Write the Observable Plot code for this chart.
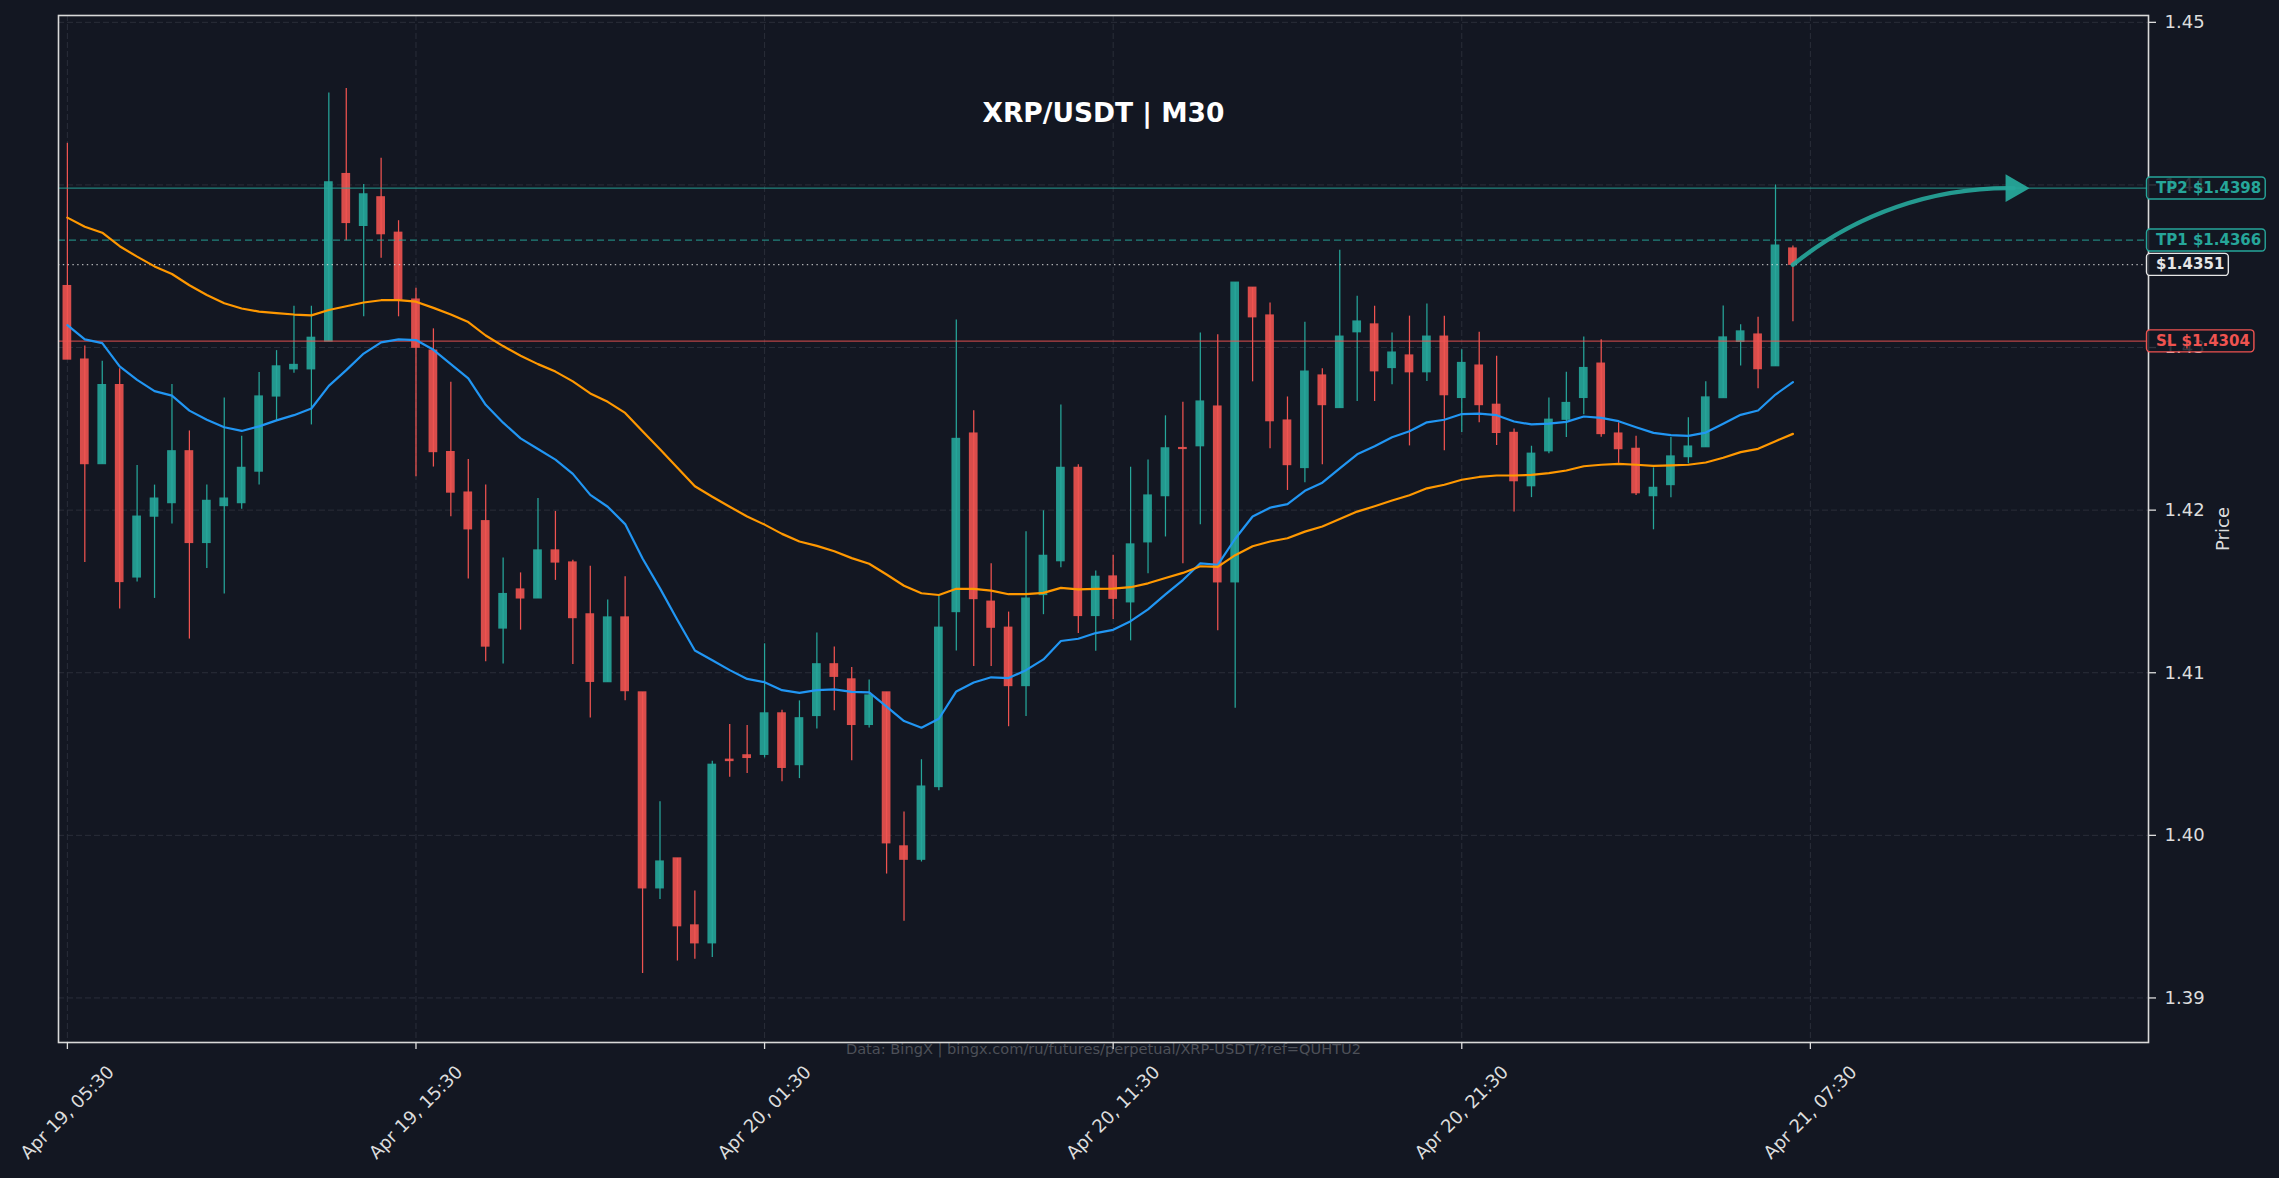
<!DOCTYPE html>
<html><head><meta charset="utf-8">
<script src="https://cdn.jsdelivr.net/npm/d3@7"></script>
<script src="https://cdn.jsdelivr.net/npm/@observablehq/plot@0.6"></script>
<style>
html,body{margin:0;padding:0;background:#131722;overflow:hidden}
</style></head><body><div id="chart"></div>
<script>
// ---------- data ----------
const opens = [1.43378,1.42926,1.42283,1.42769,1.41586,1.41960,1.42043,1.42362,1.41798,1.42025,
1.42043,1.42237,1.42699,1.42866,1.42866,1.43037,1.44067,1.43748,1.43924,1.43706,
1.43295,1.42981,1.42357,1.42108,1.41932,1.41272,1.41512,1.41457,1.41752,1.41678,
1.41359,1.40942,1.41340,1.40879,1.39674,1.39858,1.39446,1.39336,1.40465,1.40492,
1.40495,1.40750,1.40432,1.40734,1.41052,1.40959,1.40679,1.40879,1.39932,1.39850,
1.40297,1.41373,1.42471,1.41437,1.41277,1.40918,1.41478,1.41686,1.42260,1.41349,
1.41592,1.41433,1.41802,1.42086,1.42382,1.42393,1.42637,1.41556,1.43368,1.43197,
1.42551,1.42259,1.42828,1.42628,1.43094,1.43142,1.42874,1.42951,1.42848,1.43067,
1.42690,1.42889,1.42648,1.42475,1.42147,1.42362,1.42556,1.42690,1.42901,1.42471,
1.42377,1.42086,1.42154,1.42326,1.42387,1.42689,1.43035,1.43080,1.42885,1.43609];
const highs = [1.44256,1.43009,1.42916,1.42870,1.42274,1.42154,1.42773,1.42487,1.42154,1.42690,
1.42454,1.42847,1.42981,1.43254,1.43254,1.44566,1.44593,1.44002,1.44164,1.43780,
1.43365,1.43115,1.42787,1.42311,1.42154,1.41706,1.41614,1.42071,1.41992,1.41692,
1.41655,1.41447,1.41590,1.40879,1.40207,1.39858,1.39658,1.40456,1.40682,1.40676,
1.41178,1.40769,1.40827,1.41244,1.41159,1.41033,1.40956,1.40879,1.40144,1.40465,
1.41469,1.43169,1.42611,1.41670,1.41373,1.41867,1.41996,1.42647,1.42279,1.41626,
1.41723,1.42264,1.42308,1.42580,1.42663,1.43089,1.43078,1.43399,1.43368,1.43274,
1.42696,1.43155,1.42870,1.43599,1.43316,1.43254,1.43089,1.43193,1.43267,1.43193,
1.42986,1.43094,1.42947,1.42499,1.42393,1.42690,1.42848,1.43065,1.43048,1.42537,
1.42455,1.42260,1.42447,1.42568,1.42789,1.43256,1.43140,1.43187,1.44000,1.43625];
const lows = [1.42926,1.41678,1.42283,1.41392,1.41558,1.41457,1.41914,1.41207,1.41641,1.41484,
1.42006,1.42154,1.42547,1.42842,1.42524,1.43037,1.43656,1.43189,1.43549,1.43189,
1.42205,1.42265,1.41960,1.41577,1.41068,1.41054,1.41262,1.41457,1.41568,1.41050,
1.40722,1.40942,1.40827,1.39150,1.39606,1.39227,1.39238,1.39249,1.40358,1.40380,
1.40476,1.40330,1.40349,1.40654,1.40767,1.40459,1.40660,1.39762,1.39471,1.39836,
1.40275,1.41134,1.41038,1.41038,1.40668,1.40731,1.41357,1.41645,1.41242,1.41132,
1.41328,1.41196,1.41609,1.41835,1.41671,1.41910,1.41258,1.40781,1.42789,1.42378,
1.42121,1.42169,1.42279,1.42628,1.42668,1.42668,1.42771,1.42395,1.42791,1.42365,
1.42477,1.42538,1.42398,1.41989,1.42077,1.42347,1.42446,1.42586,1.42448,1.42289,
1.42090,1.41879,1.42076,1.42285,1.42387,1.42689,1.42887,1.42746,1.42885,1.43158];
const closes = [1.42926,1.42283,1.42769,1.41558,1.41960,1.42071,1.42362,1.41798,1.42057,1.42071,
1.42260,1.42699,1.42884,1.42893,1.43060,1.44016,1.43766,1.43942,1.43697,1.43295,
1.42999,1.42357,1.42108,1.41882,1.41161,1.41484,1.41457,1.41752,1.41678,1.41336,
1.40944,1.41340,1.40887,1.39674,1.39839,1.39441,1.39336,1.40434,1.40457,1.40476,
1.40750,1.40415,1.40720,1.41052,1.40975,1.40679,1.40860,1.39951,1.39850,1.40300,
1.41277,1.42438,1.41453,1.41277,1.40918,1.41456,1.41719,1.42260,1.41349,1.41590,
1.41455,1.41789,1.42090,1.42380,1.42376,1.42668,1.41556,1.43399,1.43186,1.42547,
1.42277,1.42852,1.42646,1.43067,1.43160,1.42854,1.42969,1.42848,1.43067,1.42707,
1.42905,1.42646,1.42475,1.42178,1.42347,1.42556,1.42659,1.42874,1.42468,1.42375,
1.42104,1.42137,1.42330,1.42391,1.42693,1.43062,1.43099,1.42867,1.43627,1.43509];
const maFast = [1.43138,1.43050,1.43027,1.42884,1.42801,1.42732,1.42704,1.42612,1.42556,1.42510,
1.42487,1.42515,1.42552,1.42584,1.42625,1.42764,1.42861,1.42963,1.43032,1.43050,
1.43046,1.42986,1.42898,1.42810,1.42648,1.42538,1.42441,1.42376,1.42311,1.42223,
1.42094,1.42021,1.41914,1.41703,1.41519,1.41324,1.41137,1.41077,1.41016,1.40962,
1.40942,1.40893,1.40876,1.40893,1.40898,1.40882,1.40879,1.40791,1.40703,1.40662,
1.40717,1.40885,1.40940,1.40972,1.40967,1.41016,1.41082,1.41195,1.41209,1.41244,
1.41264,1.41317,1.41390,1.41482,1.41570,1.41673,1.41664,1.41824,1.41961,1.42015,
1.42037,1.42119,1.42169,1.42257,1.42343,1.42393,1.42448,1.42485,1.42540,1.42556,
1.42591,1.42593,1.42584,1.42545,1.42527,1.42532,1.42543,1.42576,1.42567,1.42547,
1.42510,1.42475,1.42461,1.42457,1.42477,1.42531,1.42586,1.42613,1.42711,1.42787];
const maSlow = [1.43799,1.43743,1.43706,1.43623,1.43559,1.43499,1.43452,1.43383,1.43323,1.43272,
1.43240,1.43221,1.43212,1.43203,1.43198,1.43231,1.43254,1.43277,1.43291,1.43291,
1.43282,1.43244,1.43203,1.43157,1.43074,1.43009,1.42949,1.42898,1.42852,1.42792,
1.42718,1.42666,1.42598,1.42485,1.42375,1.42260,1.42147,1.42082,1.42021,1.41961,
1.41911,1.41854,1.41807,1.41780,1.41747,1.41705,1.41670,1.41604,1.41535,1.41489,
1.41478,1.41516,1.41516,1.41505,1.41483,1.41483,1.41491,1.41522,1.41513,1.41516,
1.41517,1.41526,1.41550,1.41583,1.41614,1.41655,1.41651,1.41723,1.41778,1.41807,
1.41827,1.41868,1.41899,1.41945,1.41991,1.42024,1.42059,1.42092,1.42134,1.42156,
1.42187,1.42204,1.42213,1.42213,1.42217,1.42228,1.42244,1.42270,1.42279,1.42285,
1.42279,1.42272,1.42275,1.42279,1.42293,1.42322,1.42357,1.42377,1.42424,1.42469];
const xTickIndex = [0, 20, 40, 60, 80, 100];
const xTickLabels = ["Apr 19, 05:30","Apr 19, 15:30","Apr 20, 01:30","Apr 20, 11:30","Apr 20, 21:30","Apr 21, 07:30"];
const yTicks = [1.39, 1.40, 1.41, 1.42, 1.43, 1.44, 1.45];
const levelNames = ["TP2", "TP1", "", "SL"];
const levelPrices = [1.4398, 1.4366, 1.4351, 1.4304];
const projectionEnd = [111.66];
const titleText = "XRP/USDT | M30";
const footerText = "Data: BingX | bingx.com/ru/futures/perpetual/XRP-USDT/?ref=QUHTU2";
const yAxisLabel = "Price";

// ---------- styles ----------
const BG = "#131722", GREEN = "#26a69a", RED = "#ef5350", BLUE = "#2196f3", ORANGE = "#ff9800";
const GRID = "#2a2e39", FG = "#dddddd", FONT = "'DejaVu Sans', sans-serif";
const levelColors = [GREEN, GREEN, "#e6e6e6", RED];
const levelDash = [null, "7,4", "1.4,3.4", null];

const candles = opens.map((o, i) => ({i, open: o, high: highs[i], low: lows[i], close: closes[i], up: closes[i] >= o}));
const fastLine = maFast.map((v, i) => ({i, v}));
const slowLine = maSlow.map((v, i) => ({i, v}));
const levels = levelPrices.map((p, k) => ({
  price: p,
  label: (levelNames[k] ? levelNames[k] + " " : "") + "$" + p.toFixed(4),
  color: levelColors[k]
}));
const last = candles.length - 1;
const projection = [{x1: last, y1: closes[last], x2: projectionEnd[0], y2: levelPrices[0]}];

const levelRules = levels.map((d, k) => Plot.ruleY([d], {
  y: "price", stroke: levelColors[k], strokeWidth: 1.3, strokeOpacity: 0.75,
  strokeDasharray: levelDash[k] || undefined
}));

const chart = Plot.plot({
  width: 2279, height: 1178,
  marginTop: 15, marginRight: 131, marginBottom: 136, marginLeft: 58,
  style: {background: BG, color: FG, fontFamily: FONT, fontSize: "18px", overflow: "visible"},
  x: {type: "linear", domain: [-0.51, 119.4], axis: null},
  y: {type: "linear", domain: [1.38726, 1.45042], axis: null},
  color: {type: "identity"},
  marks: [
    Plot.ruleY(yTicks, {stroke: GRID, strokeWidth: 1, strokeDasharray: "6,3"}),
    Plot.ruleX(xTickIndex, {stroke: GRID, strokeWidth: 1, strokeDasharray: "6,3"}),
    Plot.text([titleText], {frameAnchor: "top", dy: 106.7, lineAnchor: "bottom", fontSize: 26.5, fontWeight: "bold", fill: "#ffffff"}),
    Plot.text([footerText], {frameAnchor: "bottom", dx: 0, dy: 7, lineAnchor: "middle", fontSize: 14.6, fill: "#4d5058"}),
    Plot.ruleX(candles, {x: "i", y1: "low", y2: "high", stroke: d => d.up ? GREEN : RED, strokeWidth: 1.25}),
    Plot.rect(candles, {
      x1: d => d.i - 0.25, x2: d => d.i + 0.25,
      y1: d => Math.min(d.open, d.close), y2: d => Math.max(d.open, d.close),
      fill: d => d.up ? GREEN : RED, fillOpacity: 0.9, insetTop: -0.6, insetBottom: -0.6
    }),
    ...levelRules,
    Plot.line(fastLine, {x: "i", y: "v", stroke: BLUE, strokeWidth: 2.2}),
    Plot.line(slowLine, {x: "i", y: "v", stroke: ORANGE, strokeWidth: 2.2}),
    Plot.arrow(projection, {x1: "x1", y1: "y1", x2: "x2", y2: "y2", bend: 20, stroke: GREEN, strokeWidth: 4.3, strokeOpacity: 0.92, headLength: 0}),
    Plot.dot(projection, {x: "x2", y: "y2", symbol: "triangle", r: 10.3, rotate: 90, fill: GREEN, fillOpacity: 0.95, stroke: "none"}),
    Plot.frame({stroke: "#d9d9d9", strokeWidth: 1.6}),
    Plot.axisY({ticks: yTicks, anchor: "right", tickSize: 7, tickPadding: 9, tickFormat: d3.format(".2f"), label: null, color: FG, strokeWidth: 1.3, fontSize: 18}),
    Plot.axisX({ticks: xTickIndex, anchor: "bottom", tickSize: 7, tickFormat: () => "", label: null, color: FG, strokeWidth: 1.3}),
    Plot.text(xTickIndex, {x: d => d, text: (d, k) => xTickLabels[k], frameAnchor: "bottom", dy: 70, rotate: -45, textAnchor: "middle", lineAnchor: "middle", fill: FG, fontSize: 18}),
    Plot.text([yAxisLabel], {frameAnchor: "right", dx: 74.5, rotate: -90, textAnchor: "middle", lineAnchor: "middle", fill: FG, fontSize: 18}),
    Plot.text(levels, {y: "price", text: "label", frameAnchor: "right", dx: 7.5, textAnchor: "start", lineAnchor: "middle", fill: "color", fontWeight: "bold", fontSize: 15})
  ]
});

document.getElementById("chart").append(chart);

// rounded boxes behind the level labels
const labelSet = new Set(levels.map(d => d.label));
chart.querySelectorAll("text").forEach(t => {
  if (!labelSet.has(t.textContent)) return;
  const bb = t.getBBox();
  const r = document.createElementNS("http://www.w3.org/2000/svg", "rect");
  const tr = t.getAttribute("transform");
  if (tr) r.setAttribute("transform", tr);
  r.setAttribute("x", bb.x - 9.5);
  r.setAttribute("width", bb.width + 13.5);
  r.setAttribute("y", bb.y + bb.height / 2 - 11);
  r.setAttribute("height", 22);
  r.setAttribute("rx", 3.5);
  r.setAttribute("fill", BG);
  r.setAttribute("fill-opacity", 0.85);
  r.setAttribute("stroke", t.getAttribute("fill") || FG);
  r.setAttribute("stroke-width", 1.4);
  t.parentNode.insertBefore(r, t);
});
</script>
</body></html>
